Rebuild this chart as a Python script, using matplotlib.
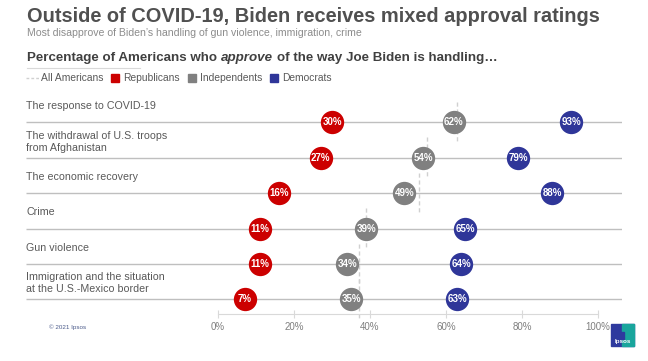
import matplotlib
matplotlib.use("Agg")
import matplotlib.pyplot as plt
from matplotlib.lines import Line2D
from matplotlib.patches import Rectangle

# data
topics = ["The response to COVID-19",
          "The withdrawal of U.S. troops\nfrom Afghanistan",
          "The economic recovery",
          "Crime",
          "Gun violence",
          "Immigration and the situation\nat the U.S.-Mexico border"]
all_americans = [63, 55, 53, 39, 37, 37]
republicans = [30, 27, 16, 11, 11, 7]
independents = [62, 54, 49, 39, 34, 35]
democrats = [93, 79, 88, 65, 64, 63]
x_ticks = [0, 20, 40, 60, 80, 100]

RED = "#cc0000"
GRAY = "#808080"
BLUE = "#2f3699"
AVG = "#d0d0d0"
TXT = "#595959"

plt.rcParams["font.family"] = ["Liberation Sans", "DejaVu Sans"]

W, H = 648, 361
fig = plt.figure(figsize=(W / 100, H / 100), dpi=100)


def fx(px):
    return px / W


def fy(py):
    return 1 - py / H


XMIN, XMAX = -50.53, 106.3
ax = fig.add_axes([fx(26), fy(314), (622 - 26) / W, (314 - 90) / H])
ax.set_xlim(XMIN, XMAX)
ax.set_ylim(5.41, -0.918)

rows = list(range(len(topics)))
ax.hlines(rows, XMIN, XMAX, color="#bfbfbf", lw=1, zorder=1)

# all americans average marks
for i, v in enumerate(all_americans):
    ax.plot([v, v], [i - 0.58, i + 0.58], color=AVG, lw=1, ls=(0, (3, 2)),
            clip_on=False, zorder=2)

for vals, col in [(republicans, RED), (independents, GRAY), (democrats, BLUE)]:
    ax.scatter(vals, rows, s=282, color=col, zorder=3, linewidths=0)
    for i, v in enumerate(vals):
        ax.text(v, i, f"{v}%", ha="center", va="center", color="white",
                fontsize=7, fontweight="bold", zorder=4)

for i, t in enumerate(topics):
    ax.text(XMIN, i - 0.46, t, ha="left", va="center", fontsize=7.7,
            color=TXT, linespacing=1.25)

for s in ["top", "left", "right"]:
    ax.spines[s].set_visible(False)
ax.spines["bottom"].set_bounds(0, 100)
ax.spines["bottom"].set_color("#d9d9d9")
ax.set_xticks(x_ticks)
ax.set_xticklabels([f"{t}%" for t in x_ticks])
ax.set_yticks([])
ax.tick_params(axis="x", direction="inout", length=6, color="#d9d9d9",
               labelsize=7, labelcolor="#7f7f7f", pad=3)

# titles
fig.text(fx(27), fy(16), "Outside of COVID-19, Biden receives mixed approval ratings",
         fontsize=14.4, fontweight="bold", color="#505050", va="center")
fig.text(fx(27), fy(33.5), "Most disapprove of Biden\u2019s handling of gun violence, immigration, crime",
         fontsize=7.6, color="#8c8c8c", va="center")

h1 = fig.text(fx(27), fy(57.5), "Percentage of Americans who", fontsize=9.6,
              fontweight="bold", color="#404040", va="center")
p2 = ax.annotate("approve", xy=(1, 0), xycoords=h1, xytext=(2.8, 0),
                 textcoords="offset points", va="bottom", ha="left",
                 fontsize=9.6, fontstyle="italic", fontweight="bold",
                 color="#404040", annotation_clip=False)
ax.annotate("of the way Joe Biden is handling\u2026", xy=(1, 0), xycoords=p2,
            xytext=(2.8, 0), textcoords="offset points", va="bottom", ha="left",
            fontsize=9.6, fontweight="bold", color="#404040",
            annotation_clip=False)

fig.add_artist(Line2D([fx(27), fx(140)], [fy(68.3), fy(68.3)], color="#d9d9d9", lw=0.8))

handles = [Line2D([0], [0], color=AVG, lw=1, ls=(0, (2, 1.5))),
           Line2D([0], [0], marker="s", ls="none", color=RED, markersize=5.2),
           Line2D([0], [0], marker="s", ls="none", color=GRAY, markersize=5.2),
           Line2D([0], [0], marker="s", ls="none", color=BLUE, markersize=5.2)]
fig.legend(handles, ["All Americans", "Republicans", "Independents", "Democrats"],
           loc="center left", bbox_to_anchor=(fx(26), fy(78.3)), ncol=4,
           frameon=False, fontsize=7.4, labelcolor=TXT, handlelength=1.25,
           handletextpad=0.2, columnspacing=0.5, borderpad=0, borderaxespad=0)

# footer
fig.text(fx(49), fy(327.5), "\u00a9 2021 Ipsos", fontsize=4.5, color="#4a5a8a", va="center")

# ipsos logo
fig.add_artist(Rectangle((fx(611), fy(346)), 23 / W, 22 / H, color="#2e3a9e",
                         transform=fig.transFigure))
fig.add_artist(Rectangle((fx(622), fy(346)), 12 / W, 22 / H, color="#19a59c",
                         transform=fig.transFigure))
fig.add_artist(Rectangle((fx(620.5), fy(339)), 3 / W, 7 / H, color="#2e3a9e",
                         transform=fig.transFigure))
fig.text(fx(622.5), fy(341), "Ipsos", fontsize=4.5, color="white",
         ha="center", va="center", fontweight="bold")

fig.savefig("out.png", dpi=100)
